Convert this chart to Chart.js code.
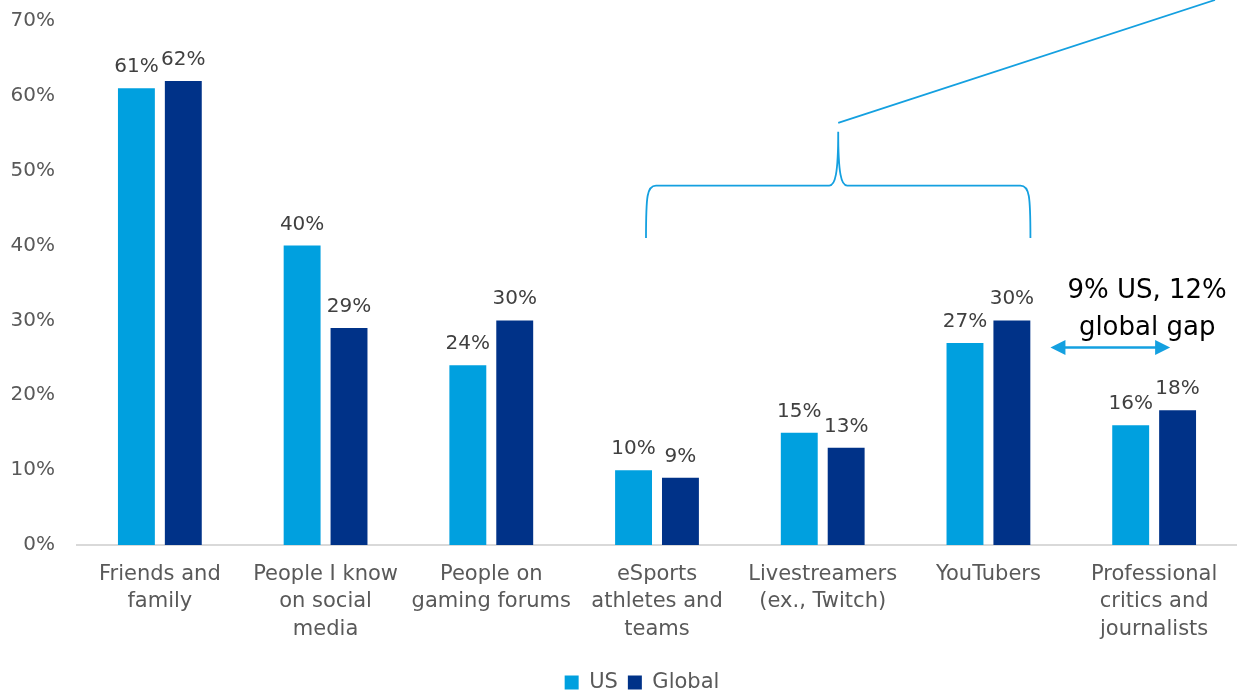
<!DOCTYPE html>
<html>
<head>
<meta charset="utf-8">
<script src="https://cdn.jsdelivr.net/npm/chart.js@4/dist/chart.umd.min.js"></script>
<style>
  html, body { margin: 0; padding: 0; background: #fff; }
  #wrap { width: 1237px; height: 693px; position: relative; }
</style>
</head>
<body>
<div id="wrap"><canvas id="chart"></canvas></div>
<script>
const categories = [
    ['Friends and', 'family'],
    ['People I know', 'on social', 'media'],
    ['People on', 'gaming forums'],
    ['eSports', 'athletes and', 'teams'],
    ['Livestreamers', '(ex., Twitch)'],
    ['YouTubers'],
    ['Professional', 'critics and', 'journalists']
];
const usValues = [61, 40, 24, 10, 15, 27, 16];
const globalValues = [62, 29, 30, 9, 13, 30, 18];
const yTicks = [0, 10, 20, 30, 40, 50, 60, 70];
const gapText = ['9% US, 12%', 'global gap'];

const FONT = 'DejaVu Sans';
const GREY = '#595959';
const CALLOUT = '#14a0e0';

// value labels above each bar
const barLabels = {
    id: 'barLabels',
    afterDatasetsDraw(chart) {
        const ctx = chart.ctx;
        ctx.save();
        ctx.font = `20px "${FONT}"`;
        ctx.fillStyle = '#404040';
        ctx.textAlign = 'center';
        ctx.textBaseline = 'alphabetic';
        chart.data.datasets.forEach((ds, i) => {
            chart.getDatasetMeta(i).data.forEach((bar, j) => {
                ctx.fillText(ds.data[j] + '%', bar.x, bar.y - 16);
            });
        });
        ctx.restore();
    }
};

// nudge the legend a little left of the plot-area centre
const legendShift = {
    id: 'legendShift',
    afterLayout(chart) {
        chart.legend.right -= 30;
    }
};

// brace over eSports..YouTubers, leader line, and the gap arrow
const callouts = {
    id: 'callouts',
    afterDraw(chart) {
        const ctx = chart.ctx;
        const x = chart.scales.x;
        const y = chart.scales.y;
        const left = x.getPixelForValue(3) - 11;
        const right = x.getPixelForValue(5) + 42;
        const mid = (left + right) / 2;
        const foot = y.getPixelForValue(41);
        const bar = y.getPixelForValue(48);
        const tip = y.getPixelForValue(55.2);

        ctx.save();
        ctx.strokeStyle = CALLOUT;
        ctx.lineWidth = 1.8;
        ctx.beginPath();
        ctx.moveTo(left, foot);
        ctx.bezierCurveTo(left, bar + 10, left + 1, bar, left + 10, bar);
        ctx.lineTo(mid - 9, bar);
        ctx.bezierCurveTo(mid - 3, bar, mid, bar - 12, mid, tip);
        ctx.bezierCurveTo(mid, bar - 12, mid + 3, bar, mid + 9, bar);
        ctx.lineTo(right - 10, bar);
        ctx.bezierCurveTo(right - 1, bar, right, bar + 10, right, foot);
        ctx.stroke();

        ctx.beginPath();
        ctx.moveTo(mid, tip - 9);
        ctx.lineTo(chart.width - 22, 0);
        ctx.stroke();

        // double arrow between YouTubers and Professional
        const ay = y.getPixelForValue(26.4);
        const ax1 = x.getPixelForValue(5) + 62;
        const ax2 = x.getPixelForValue(6) + 16;
        ctx.lineWidth = 2.5;
        ctx.beginPath();
        ctx.moveTo(ax1 + 10, ay);
        ctx.lineTo(ax2 - 10, ay);
        ctx.stroke();
        ctx.fillStyle = CALLOUT;
        ctx.beginPath();
        ctx.moveTo(ax1, ay);
        ctx.lineTo(ax1 + 15, ay - 7.5);
        ctx.lineTo(ax1 + 15, ay + 7.5);
        ctx.closePath();
        ctx.fill();
        ctx.beginPath();
        ctx.moveTo(ax2, ay);
        ctx.lineTo(ax2 - 15, ay - 7.5);
        ctx.lineTo(ax2 - 15, ay + 7.5);
        ctx.closePath();
        ctx.fill();

        ctx.fillStyle = '#000';
        ctx.font = `26px "${FONT}"`;
        ctx.textAlign = 'center';
        const tx = x.getPixelForValue(6) - 7;
        ctx.fillText(gapText[0], tx, y.getPixelForValue(33.9));
        ctx.fillText(gapText[1], tx, y.getPixelForValue(28.9));
        ctx.restore();
    }
};

new Chart(document.getElementById('chart'), {
    type: 'bar',
    data: {
        labels: categories,
        datasets: [
            { label: 'US', data: usValues, backgroundColor: '#00a0df' },
            { label: 'Global', data: globalValues, backgroundColor: '#003288' }
        ]
    },
    options: {
        responsive: true,
        maintainAspectRatio: false,
        animation: false,
        categoryPercentage: 0.566,
        barPercentage: 0.787,
        layout: { padding: { top: 21, right: 0, left: 0, bottom: -10 } },
        plugins: {
            legend: {
                position: 'bottom',
                fullSize: false,
                labels: {
                    boxWidth: 14,
                    boxHeight: 14,
                    padding: 10,
                    color: GREY,
                    font: { family: FONT, size: 21 }
                }
            },
            tooltip: { enabled: false }
        },
        scales: {
            x: {
                grid: { display: false, drawTicks: false },
                border: { color: '#d9d9d9', width: 2 },
                ticks: {
                    color: GREY,
                    padding: 16,
                    maxRotation: 0,
                    autoSkip: false,
                    font: { family: FONT, size: 21, lineHeight: 1.3 }
                },
                afterFit(scale) { scale.height = 117; }
            },
            y: {
                min: 0,
                max: 70,
                afterBuildTicks(scale) { scale.ticks = yTicks.map(v => ({ value: v })); },
                grid: { display: false, drawTicks: false },
                border: { display: false },
                ticks: {
                    color: GREY,
                    padding: 22,
                    font: { family: FONT, size: 20 },
                    callback: v => v + '%'
                },
                afterFit(scale) {
                    scale.width = 77;
                    scale.paddingTop = 0;
                    scale.paddingBottom = 0;
                }
            }
        }
    },
    plugins: [barLabels, legendShift, callouts]
});
</script>
</body>
</html>
